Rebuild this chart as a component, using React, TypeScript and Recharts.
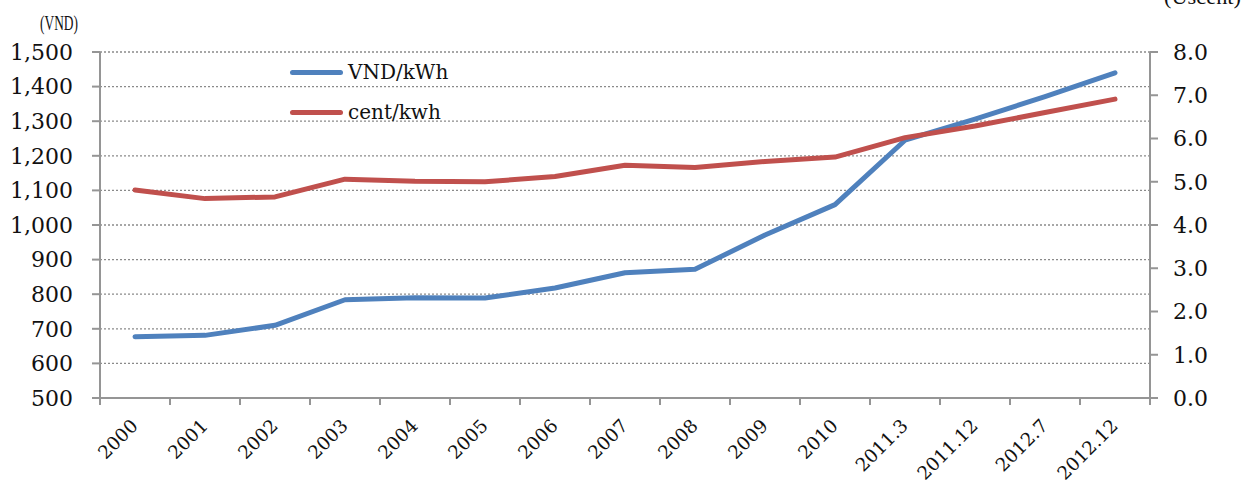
import React from 'react';
import { LineChart, Line, XAxis, YAxis, CartesianGrid, Legend } from 'recharts';

// Electricity tariff, 2000 – 2012.12
const categories = ['2000', '2001', '2002', '2003', '2004', '2005', '2006', '2007', '2008', '2009', '2010', '2011.3', '2011.12', '2012.7', '2012.12'];
const vndPerKwh = [677, 681, 710, 784, 790, 789, 818, 862, 872, 971, 1059, 1245, 1306, 1371, 1440];
const centPerKwh = [4.81, 4.61, 4.65, 5.06, 5.01, 5.0, 5.12, 5.38, 5.33, 5.47, 5.57, 6.02, 6.29, 6.6, 6.91];
const vndTicks = [500, 600, 700, 800, 900, 1000, 1100, 1200, 1300, 1400, 1500];
const centTicks = [0, 1, 2, 3, 4, 5, 6, 7, 8];

const data = categories.map((period, i) => ({
  period,
  vnd: vndPerKwh[i],
  cent: centPerKwh[i],
}));

const WIDTH = 1255;
const HEIGHT = 483;
const LEFT_AXIS_W = 100;
const RIGHT_AXIS_W = 105;
const PLOT_W = WIDTH - LEFT_AXIS_W - RIGHT_AXIS_W;
const HALF_BAND = PLOT_W / categories.length / 2;

const AXIS = '#959595';
const GRID = '#8a8a8a';
const BLUE = '#4f81bd';
const RED = '#c0504d';
const FONT = '"DejaVu Serif", serif';

const XTick = (props: any) => {
  const { x, y, payload } = props;
  const isLast = payload.value === categories[categories.length - 1];
  const ax = x + 4;
  const ay = y + 29;
  return (
    <g>
      <line x1={x - HALF_BAND} x2={x - HALF_BAND} y1={y} y2={y + 7} stroke={AXIS} strokeWidth={2} />
      {isLast && <line x1={x + HALF_BAND} x2={x + HALF_BAND} y1={y} y2={y + 7} stroke={AXIS} strokeWidth={2} />}
      <text
        x={ax}
        y={ay}
        textAnchor="end"
        transform={`rotate(-45 ${ax} ${ay})`}
        fontFamily={FONT}
        fontSize={18.5}
        fill="#111"
      >
        {payload.value}
      </text>
    </g>
  );
};

const LegendBox = (props: any) => {
  const { payload } = props;
  return (
    <div style={{ fontFamily: FONT, fontSize: 20, color: '#111' }}>
      {(payload || []).map((entry: any) => (
        <div key={entry.value} style={{ display: 'flex', alignItems: 'center', height: 40 }}>
          <span
            style={{
              display: 'inline-block',
              width: 53,
              height: 5,
              borderRadius: 3,
              background: entry.color,
              marginRight: 5,
            }}
          />
          <span>{entry.value}</span>
        </div>
      ))}
    </div>
  );
};

const unitStyle = {
  fontFamily: '"Liberation Serif", serif',
  fontSize: 21,
  fill: '#111',
};

export default function App() {
  return (
    <div style={{ position: 'absolute', left: 0, top: 0 }}>
      <LineChart width={WIDTH} height={HEIGHT} data={data} margin={{ top: 52, right: 0, bottom: 0, left: 0 }}>
        <CartesianGrid yAxisId="left" vertical={false} stroke={GRID} strokeDasharray="2 2" strokeWidth={1.3} />
        <XAxis
          dataKey="period"
          type="category"
          interval={0}
          height={85}
          padding={{ left: HALF_BAND, right: HALF_BAND }}
          axisLine={{ stroke: AXIS, strokeWidth: 2 }}
          tickLine={false}
          tickSize={0}
          tickMargin={0}
          tick={<XTick />}
        />
        <YAxis
          yAxisId="left"
          orientation="left"
          width={LEFT_AXIS_W}
          domain={[500, 1500]}
          ticks={vndTicks}
          interval={0}
          tickFormatter={(v: number) => v.toLocaleString('en-US')}
          axisLine={{ stroke: AXIS, strokeWidth: 2 }}
          tickLine={{ stroke: AXIS, strokeWidth: 2 }}
          tickSize={8}
          tickMargin={19}
          tick={{ fontFamily: FONT, fontSize: 22, fill: '#111' }}
          label={{
            content: () => (
              <text x={40} y={30} textLength={38} lengthAdjust="spacingAndGlyphs" {...unitStyle}>
                (VND)
              </text>
            ),
          }}
        />
        <YAxis
          yAxisId="right"
          orientation="right"
          width={RIGHT_AXIS_W}
          domain={[0, 8]}
          ticks={centTicks}
          interval={0}
          tickFormatter={(v: number) => v.toFixed(1)}
          axisLine={{ stroke: AXIS, strokeWidth: 2 }}
          tickLine={{ stroke: AXIS, strokeWidth: 2 }}
          tickSize={8}
          tickMargin={15}
          tick={{ fontFamily: FONT, fontSize: 22, fill: '#111' }}
          label={{
            content: () => (
              <text x={1164} y={4} textLength={77} lengthAdjust="spacingAndGlyphs" {...unitStyle}>
                (Uscent)
              </text>
            ),
          }}
        />
        <Legend
          layout="vertical"
          align="center"
          verticalAlign="middle"
          content={<LegendBox />}
          wrapperStyle={{ left: 290, top: 52, width: 'auto', height: 'auto' }}
        />
        <Line
          yAxisId="left"
          dataKey="vnd"
          name="VND/kWh"
          type="linear"
          stroke={BLUE}
          strokeWidth={5}
          strokeLinecap="round"
          strokeLinejoin="round"
          dot={false}
          activeDot={false}
          isAnimationActive={false}
        />
        <Line
          yAxisId="right"
          dataKey="cent"
          name="cent/kwh"
          type="linear"
          stroke={RED}
          strokeWidth={5}
          strokeLinecap="round"
          strokeLinejoin="round"
          dot={false}
          activeDot={false}
          isAnimationActive={false}
        />
      </LineChart>
    </div>
  );
}
